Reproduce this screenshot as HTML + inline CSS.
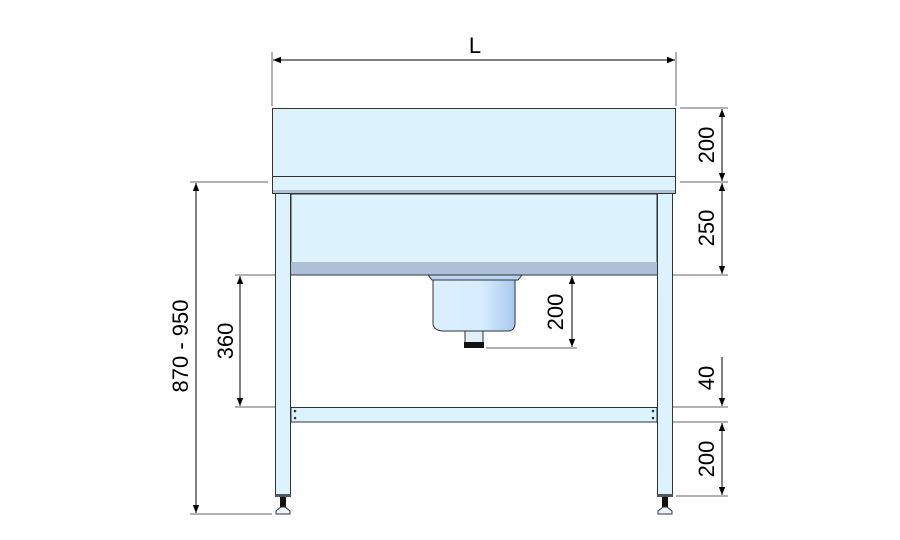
<!DOCTYPE html>
<html><head><meta charset="utf-8"><style>html,body{margin:0;padding:0;background:#fff}svg{display:block}</style></head>
<body>
<svg width="900" height="540" viewBox="0 0 900 540" xmlns="http://www.w3.org/2000/svg" font-family="Liberation Sans, sans-serif">
<defs>
<marker id="a" viewBox="0 0 10 10" refX="10" refY="5" markerWidth="8" markerHeight="10" markerUnits="userSpaceOnUse" orient="auto-start-reverse"><path d="M0,1 L10,5 L0,9 z" fill="#000"/></marker>
<linearGradient id="g" x1="0" x2="1"><stop offset="0" stop-color="#dcefff"/><stop offset="0.6" stop-color="#d6ecff"/><stop offset="1" stop-color="#aac8f0"/></linearGradient>
</defs>
<g stroke="#666" stroke-width="1" fill="none">
<line x1="272" y1="52" x2="272" y2="106"/><line x1="676" y1="52" x2="676" y2="106"/>
<line x1="273" y1="60" x2="675" y2="60" stroke="#000" marker-start="url(#a)" marker-end="url(#a)"/>
<line x1="680" y1="108" x2="728" y2="108"/><line x1="680" y1="182" x2="728" y2="182"/>
<line x1="663" y1="275" x2="728" y2="275"/><line x1="663" y1="407" x2="728" y2="407"/>
<line x1="663" y1="422" x2="728" y2="422"/><line x1="676" y1="496" x2="728" y2="496"/>
<line x1="722" y1="109" x2="722" y2="181" stroke="#000" marker-start="url(#a)" marker-end="url(#a)"/>
<line x1="722" y1="183" x2="722" y2="274" stroke="#000" marker-start="url(#a)" marker-end="url(#a)"/>
<line x1="722" y1="357" x2="722" y2="406" stroke="#000" marker-end="url(#a)"/>
<line x1="722" y1="423" x2="722" y2="495" stroke="#000" marker-start="url(#a)" marker-end="url(#a)"/>
<line x1="190" y1="182" x2="268" y2="182"/><line x1="190" y1="514" x2="272" y2="514"/>
<line x1="235" y1="275" x2="287" y2="275"/><line x1="235" y1="407" x2="287" y2="407"/>
<line x1="196" y1="183" x2="196" y2="513" stroke="#000" marker-start="url(#a)" marker-end="url(#a)"/>
<line x1="240" y1="276" x2="240" y2="406" stroke="#000" marker-start="url(#a)" marker-end="url(#a)"/>
<line x1="486" y1="348" x2="577" y2="348"/>
<line x1="572" y1="276" x2="572" y2="347" stroke="#000" marker-start="url(#a)" marker-end="url(#a)"/>
</g>
<g stroke="#333" stroke-width="1">
<rect x="275.5" y="193.5" width="15" height="302" fill="#dcf3fd"/>
<rect x="657.5" y="193.5" width="15" height="302" fill="#dcf3fd"/>
<rect x="275" y="494" width="16" height="3" fill="#555" stroke="none"/>
<rect x="657" y="494" width="16" height="3" fill="#555" stroke="none"/>
<rect x="280" y="497" width="6" height="12" fill="#111" stroke="none"/>
<rect x="662" y="497" width="6" height="12" fill="#111" stroke="none"/>
<path d="M276,514 L276,511 L281,507 L285,507 L290,511 L290,514 Z" fill="#eaf6fc"/>
<path d="M658,514 L658,511 L663,507 L667,507 L672,511 L672,514 Z" fill="#eaf6fc"/>
<rect x="291" y="194" width="366" height="81" fill="#dcf3fd"/>
<rect x="291" y="262" width="366" height="13" fill="#aebfd8" stroke="none"/>
<line x1="291" y1="275" x2="657" y2="275"/>
<rect x="272.5" y="108.5" width="403" height="68" fill="#dcf3fd"/>
<rect x="272.5" y="176.5" width="403" height="17" fill="#dcf3fd"/>
<rect x="273" y="190" width="402" height="3" fill="#aebfd8" stroke="none"/>
<rect x="291" y="407.5" width="366" height="14.5" fill="#dcf3fd"/>
<path d="M428,275 L432,280 L518,280 L522,275 Z" fill="#b8d4f0"/>
<path d="M433,280 L433,323 Q433,330 442,331 L509,331 Q515,330 515,323 L515,280 Z" fill="url(#g)"/>
<rect x="465" y="331" width="18" height="12" fill="#e0effa"/>
<rect x="464" y="342" width="20" height="6" fill="#111" stroke="none"/>
</g>
<g fill="#333">
<circle cx="295" cy="411" r="1.3"/><circle cx="295" cy="418" r="1.3"/>
<circle cx="653" cy="411" r="1.3"/><circle cx="653" cy="418" r="1.3"/>
</g>
<g fill="#000" font-size="22" text-anchor="middle">
<text x="475" y="53">L</text>
<text transform="translate(714,145) rotate(-90)">200</text>
<text transform="translate(714,228) rotate(-90)">250</text>
<text transform="translate(714,378) rotate(-90)">40</text>
<text transform="translate(714,459) rotate(-90)">200</text>
<text transform="translate(188,346) rotate(-90)">870 - 950</text>
<text transform="translate(233,341) rotate(-90)">360</text>
<text transform="translate(563,312) rotate(-90)">200</text>
</g>
</svg>
</body></html>
